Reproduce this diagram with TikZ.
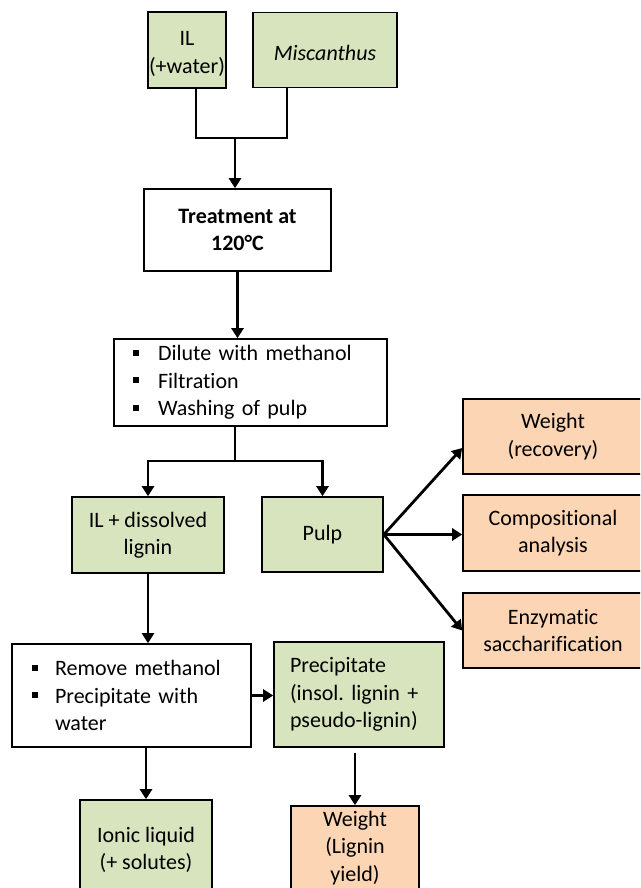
\documentclass[tikz,border=0pt]{standalone}
\usepackage{fontspec}
\setmainfont{Carlito}[Ligatures={NoCommon}]
\usetikzlibrary{arrows.meta}
\definecolor{boxgreen}{HTML}{D7E4BD}
\definecolor{boxorange}{HTML}{FCD5B5}
\newcommand{\bul}{\makebox[0pt][l]{\rule[5pt]{6pt}{6pt}}}
\frenchspacing
\begin{document}
\begin{tikzpicture}[x=1pt,y=-1pt,
  every node/.style={font=\fontsize{22}{27.5}\selectfont\frenchspacing},
  box/.style={draw=black,line width=1.6pt,align=center,inner sep=0pt},
  gbox/.style={box,fill=boxgreen},
  obox/.style={box,fill=boxorange},
  wbox/.style={box,fill=white},
  arr/.style={line width=2.8pt,-{Triangle[length=10pt,width=12pt]}},
  ln/.style={line width=2.8pt}]
\useasboundingbox (0,0) rectangle (640,888);
\clip (0,0) rectangle (640,888);
\fill[white] (0,0) rectangle (640,888);
% top
\node[gbox,minimum width=78pt,minimum height=76pt,
  label={[yshift=-4pt,align=center]center:IL\\(+water)}] (il) at (187,50) {};
\node[gbox,minimum width=144pt,minimum height=75pt,
  label={[yshift=-3pt]center:\itshape Miscanthus}] (misc) at (325,50) {};
\node[wbox,minimum width=187pt,minimum height=82pt] (treat) at (237.5,230) {\bfseries Treatment at\\\bfseries 120°C};
\node[wbox,minimum width=273pt,minimum height=87pt,align=left,text width=235pt] (meth) at (250.5,382.5)
  {\bul\hspace*{25pt}Dilute with methanol\\\bul\hspace*{25pt}Filtration\\\bul\hspace*{25pt}Washing of pulp};
\node[gbox,minimum width=152pt,minimum height=76pt] (ildl) at (148,535) {IL + dissolved\\lignin};
\node[gbox,minimum width=121pt,minimum height=75pt] (pulp) at (322.5,534.5) {Pulp};
\node[obox,minimum width=180pt,minimum height=75pt] (wrec) at (553,436.5) {Weight\\(recovery)};
\node[obox,minimum width=180pt,minimum height=76pt] (comp) at (553,533) {Compositional\\analysis};
\node[obox,minimum width=180pt,minimum height=75pt] (enz) at (553,630.5) {Enzymatic\\saccharification};
\node[wbox,minimum width=239pt,minimum height=103pt,align=left,text width=199pt] (rem) at (131.5,695.5)
  {\bul\hspace*{23pt}Remove methanol\\\bul\hspace*{23pt}Precipitate with\\\hspace*{23pt}water};
\node[gbox,minimum width=170pt,minimum height=105pt,align=left,text width=138pt] (prec) at (359,694.5)
  {Precipitate\\(insol. lignin +\\pseudo-lignin)};
\node[gbox,minimum width=132pt,minimum height=100pt] (ionic) at (146,850) {Ionic liquid\\(+ solutes)};
\node[obox,minimum width=128pt,minimum height=84pt] (wly) at (355,848) {Weight\\(Lignin\\yield)};
% connectors
\coordinate (j) at (235,138);
\draw[ln] ([xshift=9pt]il.south) |- (j) -| ([xshift=-38pt]misc.south);
\draw[arr] (j) -- (j |- treat.north);
\draw[arr] (treat.south) -- (treat.south |- meth.north);
\coordinate (k) at (235,461);
\draw[ln] (k |- meth.south) -- (k);
\draw[arr] (k) -| (ildl.north);
\draw[arr] (k) -| (pulp.north);
\draw[arr] (pulp.east) -- ([yshift=-11.5pt]wrec.west);
\draw[arr] (pulp.east) -- (pulp.east -| comp.west);
\draw[arr] (pulp.east) -- (enz.west);
\draw[arr] (ildl.south) -- (ildl.south |- rem.north);
\draw[arr] (rem.east) -- (rem.east -| prec.west);
\draw[arr] (ionic.north |- rem.south) -- (ionic.north);
\draw[arr] ([yshift=-5pt]prec.south -| wly.north) -- (wly.north);
\end{tikzpicture}
\end{document}
